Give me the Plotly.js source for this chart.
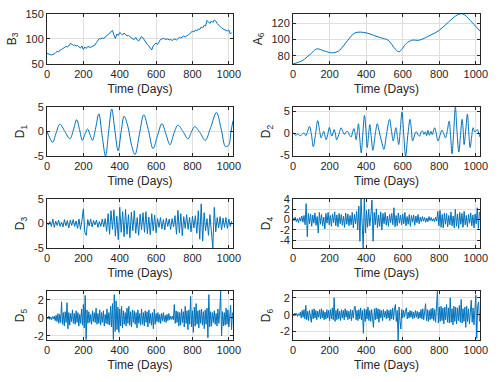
<!DOCTYPE html>
<html>
<head>
<meta charset="utf-8">
<script src="https://cdn.plot.ly/plotly-3.0.1.min.js"></script>
<style>
  body { margin: 0; background: #fff; }
  #chart { width: 498px; height: 382px; }
</style>
</head>
<body>
<div id="chart"></div>
<script>
// values (wavelet approximation / detail levels)

var b3Step = 8;
var b3Vals = [71,70,68,68,69,70,73,75, 74,78,79,81,83,85,84,86,
  91,90,87,88,86,87,84,82, 86,79,84,81,85,84,83,85,
  86,88,93,97,101,100,102,101, 104,106,108,112,114,117,108,101,
  110,107,113,111,108,112,109,106, 107,104,103,100,99,103,98,96,
  100,105,102,97,93,89,86,82, 78,86,90,92,89,95,99,100,
  101,100,99,100,98,99,97,99, 100,98,101,103,102,105,106,104,
  107,108,110,113,116,114,118,116, 120,119,124,122,127,126,137,134,
  131,136,133,138,136,131,127,125, 122,120,119,117,116,118,110,113];

var a6Days = [0,50,100,130,170,210,250,300,340,400,440,480,520,560,580,620,650,690,750,800,850,900,930,970,1023];
var a6Vals = [70,74,83,88.4,86,83.6,86,99,108,108,105,102,99,88,85,95,99,99,105,111,121,130,131,123,110];

var d1Days = [0,15,31,50,71,98,126,145,163,179,194,209,223,236,250,268,285,303,322,339,356,373,391,408,424,
  445,465,484,508,532,558,583,608,632,654,676,698,720,748,775,793,812,841,870,900,932,958,982,1000,1012,1023];
var d1Vals = [0,-1.3,-2.2,-0.3,1.5,0,-1.5,0.3,2.4,0.4,-1.8,-0.5,0.5,-0.6,-1.8,0.8,3.6,-0.8,-5,0,4.6,0.3,-3.9,0,3.1,
  1.0,-2.8,-4.7,-0.6,3.4,0.2,-3.5,-0.8,1.6,-0.5,-2.7,-0.4,1.3,0,-1.5,-0.2,1.0,-0.2,-1.8,0.8,3.9,0.5,-3.1,-2.7,0,2.2];

var d2Days = [0,8,16,24,32,40,50,60,70,80,90,100,111,122,135,145,154,161,168,175,181,190,199,206,212,219,225,232,238,
  250,263,272,282,291,300,309,318,326,333,339,345,352,358,365,373,382,391,399,406,413,420,428,437,449,461,469,477,487,497,
  512,528,538,548,556,563,570,578,587,596,606,616,628,640,647,654,662,668,675,684,693,700,708,716,724,731,738,746,754,762,
  768,775,784,793,804,815,824,834,844,854,862,870,879,888,897,907,916,925,931,936,945,954,961,969,977,985,993,1000,1008,1016,1023];
var d2Vals = [0.2,-0.2,-0.4,-0.1,-0.3,-0.5,-0.2,0.1,-0.5,0.5,1.6,0,-3.0,-0.5,2.9,0.7,-1.0,-0.2,0.5,-0.6,-1.4,-0.2,1.4,0.2,-0.6,0.1,0.9,-0.1,-1.4,
  -0.3,1.3,0.5,-0.2,0.4,0.4,-0.4,-0.8,0.3,1.1,0.2,-1.4,0.4,2.2,-1.0,-4.4,0,4.1,0.6,-3.2,-0.5,2.0,-0.8,-3.8,-0.4,2.2,0.9,-0.6,-2.2,-3.6,
  0,3.2,0.8,-1.7,-0.1,1.3,-0.4,-2.5,0.9,4.9,-0.4,-5.1,-0.4,3.2,1.2,-1.7,-0.8,0.1,0.4,-0.3,-0.6,0.3,0.6,-0.2,0.4,-0.5,0.7,-0.4,0.5,-0.3,
  0.6,1.3,-0.1,-1.7,-0.4,0.75,0,-1.0,0.6,2.8,-0.5,-4.6,0.5,6.0,0.5,-4.2,-0.5,3.2,0.6,-2.5,0.8,4.4,0.4,-3.2,-0.8,1.3,0.4,0.5,0.9,0.1,-0.8];

var d3Step = 8;
var d3Vals = [0.2,-0.3,0.4,-0.6,0.9,-0.8,0.5,-0.4, 0.7,-0.6,0.3,-0.7,0.8,-0.5,0.6,-0.9,
  0.7,-0.4,0.8,-0.6,0.5,-1.0,0.9,-1.2, 0.6,3.0,-1.8,-2.4,0.8,-0.5,0.9,-0.7,
  0.6,-0.3,0.7,-0.8,0.4,-0.6,0.9,-0.7, 1.0,-1.6,2.0,-2.2,2.6,-1.2,2.8,-2.6,
  1.5,-3.3,3.3,-1.8,2.4,-2.7,2.9,-2.2, 1.8,-2.9,2.3,-1.5,2.6,-2.0,1.2,-2.4,
  1.9,-1.3,2.2,-1.8,2.4,-2.1,1.3,-2.3, 2.0,-1.5,1.7,-1.9,1.0,-0.8,1.2,-1.1,
  0.8,-1.3,1.1,-0.6,0.9,-1.2,1.0,-0.7, 1.6,-2.2,2.7,-1.9,2.0,-2.5,1.4,-1.0,
  1.8,-1.2,1.3,-1.7,1.5,-0.9,1.6,-2.0, 2.6,-3.2,4.0,-3.6,2.2,-1.5,1.0,-2.4,
  1.8,-1.6,-5.0,3.3,-1.7,1.2,-0.9,1.4, -1.3,1.1,-0.8,1.2,-1.0,0.9,-0.6,0.5];

var d4Step = 6;
var d4Vals = [0.3,-0.2,0.5,-0.4,0.2,-0.6,0.4,-0.3,0.7,-0.5,
  0.8,-1.0,3.1,-3.3,1.2,-0.8,1.1,-1.3,0.9,-0.7,
  1.3,-1.1,0.6,-2.6,1.4,-0.9,1.0,-1.2,0.5,-1.8,
  1.2,-0.7,1.4,-1.0,0.8,-1.3,1.1,-0.6,1.5,-1.2,
  0.9,-1.4,1.2,-0.8,1.0,-1.1,0.7,-1.5,1.3,-0.9,
  1.1,-1.2,0.8,-1.0,1.4,-1.6,1.0,-0.8,1.6,-2.0,
  2.6,-4.2,4.2,-3.0,-5.5,4.2,-2.6,1.8,-1.5,2.0,
  -1.2,0.9,3.8,-4.2,1.4,-1.0,2.1,-1.6,0.9,-1.3,
  1.5,-2.0,1.2,-0.8,1.4,-1.1,0.7,-1.3,1.0,-0.6,
  1.2,-1.0,2.3,-1.4,0.8,-1.2,1.3,-0.7,0.9,-1.0,
  1.1,-0.8,1.4,-1.2,0.6,-0.9,1.0,-1.3,0.8,-0.5,
  0.9,-1.1,0.7,-0.6,1.0,-0.8,0.5,-0.4,0.6,-0.3,
  0.4,-0.5,0.3,-0.4,0.6,-0.2,0.4,-0.3,0.2,-0.4,
  0.5,-0.3,1.6,-1.2,1.8,-1.5,1.0,-1.6,1.3,-0.9,
  1.2,-1.4,0.8,-1.0,1.5,-1.2,0.7,-1.6,2.0,-1.3,
  1.1,-1.7,1.4,-0.9,1.2,-1.5,1.6,-1.0,0.8,-1.4,
  1.0,-0.7,1.3,-1.2,0.9,-1.6,1.1,-0.8,2.3,-1.7,
  1.5];

var d5Step = 5;
var d5Vals = [0.1,-0.1,0.2,-0.15,0.1,-0.2,0.15,-0.1,0.2,-0.3,
  0.3,-0.4,0.5,-0.6,0.4,-0.5,1.8,-0.7,0.6,-0.9,
  0.7,-0.5,1.7,-1.2,0.6,-0.8,0.5,-0.4,0.9,-0.6,
  0.5,-0.7,0.8,-0.5,0.6,-0.9,0.4,-0.6,1.0,-0.8,
  1.5,-1.1,2.5,-2.4,0.9,-0.6,0.7,-0.5,0.4,-0.7,
  0.8,-0.4,0.6,-0.5,1.1,-0.7,0.5,-0.6,0.9,-0.8,
  0.6,-0.5,0.8,-0.9,0.4,-0.6,1.0,-0.7,0.6,-0.8,
  1.3,-1.0,1.6,-2.4,2.6,-1.5,1.9,-1.3,1.2,-1.6,
  1.0,-0.9,1.3,-1.1,0.8,-0.7,0.6,-0.9,1.1,-0.6,
  1.3,-0.8,0.7,-1.0,0.9,-0.5,0.8,-0.7,0.6,-1.1,
  0.9,-0.6,0.5,-0.8,1.0,-0.7,0.6,-0.9,0.8,-0.5,
  0.7,-1.0,0.9,-0.6,0.5,-0.8,0.6,-1.2,1.0,-0.7,
  0.5,-0.4,0.6,-0.5,0.4,-0.6,0.5,-0.3,0.6,-0.4,
  0.3,-0.5,0.4,-0.3,0.5,-0.2,0.2,-0.15,0.2,-0.2,
  1.5,-0.6,0.8,-0.5,0.7,-0.9,0.6,-0.8,1.0,-0.5,
  0.7,-1.0,1.3,-0.6,0.8,-1.3,0.9,-0.7,2.4,-1.0,
  0.8,-1.6,1.2,-0.9,1.6,-0.7,0.8,-1.1,0.9,-0.6,
  1.0,-0.8,0.7,-1.2,0.9,-0.7,1.1,-2.2,2.6,-1.0,
  0.7,-0.9,0.6,-0.5,0.8,-0.7,0.5,-0.9,1.0,-0.6,
  0.8,3.0,-2.0,0.7,-0.9,0.6,-0.8,1.1,-0.7,0.9,
  -1.0,0.8,1.4,-1.3,0.6];

var d6Step = 5;
var d6Vals = [0.1,-0.15,0.2,-0.1,0.15,-0.2,0.1,-0.1,0.3,-0.4,
  0.5,-0.3,0.6,-0.5,1.1,-0.6,0.4,-0.7,0.5,-0.4,
  -0.9,0.6,-0.5,0.7,-0.4,0.5,-0.6,0.4,-0.3,0.6,
  -0.5,0.7,-0.4,0.5,-0.6,0.3,-0.5,0.6,-0.4,0.5,
  -0.7,0.6,-0.5,0.8,-0.6,2.0,-0.8,0.5,-0.6,0.7,
  -0.5,0.4,-0.7,0.6,-0.4,0.5,-0.6,0.7,-0.3,0.5,
  -0.6,0.4,-0.5,0.6,-0.7,0.5,-0.4,0.8,1.0,-0.6,
  0.5,-0.7,0.6,-0.5,0.8,-0.6,0.5,-2.2,0.7,-0.8,
  0.6,-0.5,0.9,-0.7,0.5,-0.8,0.6,-0.4,-1.5,0.7,
  -0.6,0.8,-0.5,0.7,-0.9,0.6,-0.4,0.5,-0.7,0.6,
  -0.3,0.4,-0.5,0.6,-0.4,0.5,-0.7,0.6,-0.5,0.8,
  -0.6,0.7,1.2,-0.8,0.5,-3.0,0.9,-0.7,-1.7,0.6,
  -0.4,0.5,-0.3,0.4,0.8,-0.5,0.3,-0.4,0.5,-0.3,
  0.4,-0.5,0.3,-0.4,0.5,-0.3,0.4,-0.5,0.3,-0.4,
  0.6,-0.5,0.7,-0.6,0.5,1.3,-0.7,0.6,-0.8,0.5,
  -0.6,0.7,-0.5,0.8,-0.7,0.6,-0.9,0.5,2.8,-1.0,
  0.9,-0.8,1.0,-0.7,0.8,-1.1,0.9,-0.6,1.2,-0.9,
  0.8,-1.0,2.0,-0.9,0.7,-1.2,1.0,-0.8,0.9,-1.1,
  0.8,-0.7,1.1,-0.9,1.8,-1.0,0.7,-0.8,0.9,-1.5,
  1.0,-0.8,0.7,-1.1,1.0,1.7,-0.9,0.8,-1.2,0.9,
  2.3,-2.8,1.0,1.5,-0.8];

// tick labels (MATLAB-style hyphen minus)
var dayTicks = [0, 200, 400, 600, 800, 1000];
var b3Ticks = [50, 100, 150];
var a6Ticks = [80, 100, 120];
var fiveTicks = [-5, 0, 5];
var d4Ticks = [-4, -2, 0, 2, 4];
var twoTicks = [-2, 0, 2];

function days(vals, step) {
  return vals.map(function (v, i) { return i * step; });
}

var panels = [
  {name: 'B<sub>3</sub>', x: days(b3Vals, b3Step), y: b3Vals, range: [50, 150], ticks: b3Ticks},
  {name: 'A<sub>6</sub>', x: a6Days, y: a6Vals, range: [70, 131], ticks: a6Ticks, smooth: true},
  {name: 'D<sub>1</sub>', x: d1Days, y: d1Vals, range: [-5, 5], ticks: fiveTicks, smooth: true},
  {name: 'D<sub>2</sub>', x: d2Days, y: d2Vals, range: [-5.1, 6.0], ticks: fiveTicks, smooth: true},
  {name: 'D<sub>3</sub>', x: days(d3Vals, d3Step), y: d3Vals, range: [-5, 5], ticks: fiveTicks},
  {name: 'D<sub>4</sub>', x: days(d4Vals, d4Step), y: d4Vals, range: [-5.5, 4], ticks: d4Ticks},
  {name: 'D<sub>5</sub>', x: days(d5Vals, d5Step), y: d5Vals, range: [-2.45, 3], ticks: twoTicks},
  {name: 'D<sub>6</sub>', x: days(d6Vals, d6Step), y: d6Vals, range: [-3, 2.8], ticks: twoTicks}
];

var colDomains = [[0.0944, 0.4679], [0.5884, 0.9639]];
var rowDomains = [[0.8325, 0.9634], [0.5916, 0.7199], [0.3508, 0.4791], [0.1099, 0.2382]];

var axisFont = {family: 'Liberation Sans, Arial, sans-serif', size: 11, color: '#262626'};
var titleFont = {family: 'Liberation Sans, Arial, sans-serif', size: 12, color: '#262626'};

var data = [];
var layout = {
  width: 498,
  height: 382,
  margin: {l: 0, r: 0, t: 0, b: 0},
  paper_bgcolor: '#fff',
  plot_bgcolor: '#fff',
  showlegend: false,
  font: axisFont
};

panels.forEach(function (p, i) {
  var n = i + 1;
  var sfx = n === 1 ? '' : String(n);
  var line = {color: '#0072BD', width: 1};
  if (p.smooth) { line.shape = 'spline'; line.smoothing = 1; }
  data.push({
    x: p.x, y: p.y, type: 'scatter', mode: 'lines',
    line: line, xaxis: 'x' + sfx, yaxis: 'y' + sfx, hoverinfo: 'skip'
  });

  var common = {
    showline: true, mirror: 'ticks', linecolor: '#262626', linewidth: 1,
    ticks: 'inside', ticklen: 3, tickcolor: '#262626',
    showgrid: true, gridcolor: '#dfdfdf', gridwidth: 1, zeroline: false,
    tickfont: axisFont
  };
  layout['xaxis' + sfx] = Object.assign({}, common, {
    domain: colDomains[i % 2], anchor: 'y' + sfx,
    range: [0, 1023], tickvals: dayTicks,
    title: {text: 'Time (Days)', font: titleFont, standoff: 5}
  });
  layout['yaxis' + sfx] = Object.assign({}, common, {
    domain: rowDomains[Math.floor(i / 2)], anchor: 'x' + sfx,
    range: p.range, tickvals: p.ticks,
    ticktext: p.ticks.map(function (t) { return String(t); }),
    title: {text: p.name, font: titleFont, standoff: 6}
  });
});

Plotly.newPlot('chart', data, layout, {staticPlot: true});
</script>
</body>
</html>
